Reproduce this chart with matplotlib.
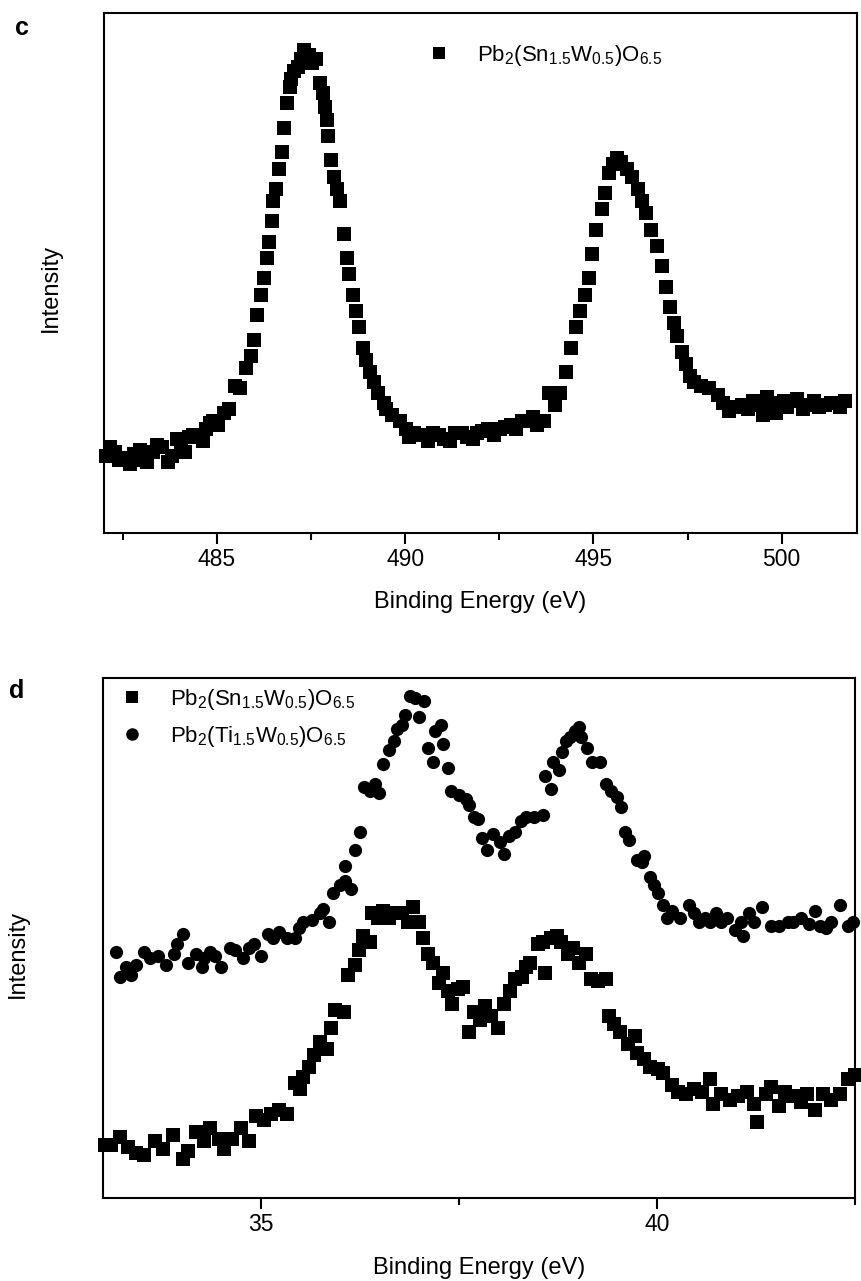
import matplotlib
matplotlib.use('Agg')
import matplotlib.pyplot as plt
from matplotlib.ticker import MultipleLocator, NullLocator

plt.rcParams['font.family'] = ['Liberation Sans', 'DejaVu Sans']
plt.rcParams['mathtext.fontset'] = 'custom'
plt.rcParams['mathtext.rm'] = 'Liberation Sans'
plt.rcParams['mathtext.it'] = 'Liberation Sans:italic'
plt.rcParams['mathtext.bf'] = 'Liberation Sans:bold'

# ---------------- panel c : Pb 4f-like region (482-502 eV) ----------------
c_energy = [
    482.05, 482.17, 482.30, 482.39, 482.55, 482.68, 482.80, 482.95, 483.05, 483.15,
    483.30, 483.42, 483.55, 483.71, 483.80, 483.93, 484.05, 484.15, 484.25, 484.37,
    484.50, 484.62, 484.70, 484.81, 484.90, 485.03, 485.18, 485.32, 485.47, 485.62,
    485.76, 485.91, 485.98, 486.06, 486.17, 486.25, 486.32, 486.38, 486.45, 486.50,
    486.57, 486.64, 486.72, 486.79, 486.86, 486.94, 486.98, 487.05, 487.16, 487.23,
    487.32, 487.45, 487.52, 487.64, 487.74, 487.82, 487.86, 487.92, 487.96, 488.04,
    488.11, 488.18, 488.26, 488.37, 488.45, 488.52, 488.62, 488.70, 488.77, 488.87,
    488.96, 489.06, 489.16, 489.28, 489.43, 489.50, 489.65, 489.87, 490.01, 490.10,
    490.23, 490.45, 490.60, 490.75, 490.90, 491.04, 491.20, 491.33, 491.50, 491.63,
    491.80, 491.92, 492.05, 492.21, 492.35, 492.51, 492.65, 492.80, 492.95, 493.09,
    493.25, 493.39, 493.50, 493.68, 493.83, 493.97, 494.12, 494.27, 494.41, 494.53,
    494.63, 494.78, 494.88, 494.97, 495.07, 495.22, 495.32, 495.41, 495.51, 495.62,
    495.73, 495.88, 496.03, 496.17, 496.29, 496.39, 496.54, 496.69, 496.83, 496.94,
    497.02, 497.13, 497.23, 497.35, 497.46, 497.57, 497.67, 497.86, 498.08, 498.30,
    498.45, 498.59, 498.81, 498.95, 499.11, 499.25, 499.40, 499.50, 499.62, 499.75,
    499.84, 500.06, 500.15, 500.28, 500.40, 500.57, 500.70, 500.87, 501.00, 501.16,
    501.30, 501.45, 501.55, 501.67,
]
c_intensity = [
    19.0, 21.0, 20.0, 18.0, 18.5, 17.0, 19.5, 20.5, 18.0, 17.5,
    20.0, 21.5, 21.0, 17.5, 19.0, 23.0, 22.0, 20.0, 23.5, 24.0,
    24.0, 22.5, 25.5, 27.0, 27.5, 26.5, 29.5, 30.5, 36.0, 35.5,
    40.5, 43.5, 47.5, 53.5, 58.5, 62.5, 67.5, 71.5, 76.5, 81.5,
    84.5, 89.5, 93.5, 99.5, 105.5, 109.5, 111.5, 113.5, 114.5, 116.5,
    118.5, 117.5, 115.5, 116.5, 110.5, 108.0, 104.5, 101.5, 97.5, 91.5,
    87.5, 84.5, 81.5, 73.5, 67.5, 63.5, 58.5, 54.5, 50.5, 45.5,
    42.5, 39.5, 37.0, 34.5, 32.0, 30.5, 29.0, 27.5, 25.5, 23.5,
    24.5, 24.0, 22.5, 24.5, 24.0, 23.0, 22.5, 24.5, 24.5, 23.5,
    23.0, 24.5, 25.0, 25.5, 24.0, 25.5, 26.0, 26.5, 25.5, 27.5,
    27.5, 28.5, 26.5, 27.5, 34.5, 31.5, 34.5, 39.5, 45.5, 50.5,
    54.5, 58.5, 62.5, 68.5, 74.5, 79.5, 83.5, 88.5, 90.5, 92.0,
    91.0, 89.5, 87.5, 84.5, 81.5, 78.5, 74.5, 70.5, 65.5, 60.5,
    55.5, 51.5, 48.5, 44.5, 41.5, 38.5, 37.0, 36.0, 35.5, 34.0,
    32.0, 30.0, 31.0, 31.5, 30.5, 32.5, 31.5, 29.0, 33.5, 32.0,
    29.5, 32.5, 31.0, 32.5, 33.0, 30.5, 31.5, 32.5, 31.0, 31.5,
    32.0, 32.0, 31.0, 32.5,
]

# ---------------- panel d : W 4f-like region (33-42.5 eV) ----------------
d_sn_energy = [
    33.02, 33.10, 33.22, 33.31, 33.42, 33.52, 33.66, 33.76, 33.89, 34.01,
    34.08, 34.18, 34.28, 34.35, 34.46, 34.53, 34.63, 34.74, 34.84, 34.93,
    35.03, 35.12, 35.22, 35.33, 35.43, 35.49, 35.53, 35.60, 35.67, 35.74,
    35.83, 35.88, 35.93, 36.04, 36.09, 36.18, 36.23, 36.28, 36.37, 36.40,
    36.47, 36.54, 36.61, 36.68, 36.78, 36.85, 36.92, 36.99, 37.04, 37.10,
    37.17, 37.24, 37.29, 37.36, 37.41, 37.48, 37.55, 37.62, 37.69, 37.76,
    37.83, 37.90, 37.99, 38.06, 38.14, 38.21, 38.29, 38.35, 38.40, 38.49,
    38.56, 38.59, 38.66, 38.73, 38.78, 38.87, 38.94, 39.01, 39.10, 39.17,
    39.25, 39.35, 39.39, 39.46, 39.53, 39.63, 39.72, 39.74, 39.84, 39.91,
    40.01, 40.08, 40.19, 40.26, 40.36, 40.47, 40.57, 40.67, 40.71, 40.81,
    40.92, 41.02, 41.13, 41.23, 41.26, 41.37, 41.44, 41.54, 41.61, 41.72,
    41.82, 41.89, 41.99, 42.10, 42.20, 42.31, 42.41, 42.50,
]
d_sn_intensity = [
    13.0, 13.0, 15.0, 12.5, 11.0, 10.5, 14.0, 12.0, 15.5, 9.5,
    11.5, 16.0, 14.0, 17.0, 14.5, 12.0, 14.5, 17.0, 14.0, 20.0,
    19.0, 20.5, 21.5, 20.5, 28.0, 26.5, 29.5, 32.0, 35.0, 38.0,
    36.5, 41.5, 46.0, 45.5, 54.5, 57.0, 60.5, 64.0, 62.5, 69.5,
    68.5, 70.0, 68.5, 69.5, 69.5, 67.5, 71.0, 67.5, 63.5, 59.5,
    57.5, 52.5, 55.0, 50.5, 47.5, 51.0, 51.5, 40.5, 45.5, 43.5,
    47.0, 44.5, 41.5, 47.5, 50.5, 53.5, 54.0, 56.5, 57.5, 62.0,
    62.5, 55.0, 63.5, 64.0, 62.5, 59.5, 61.0, 57.5, 59.5, 53.5,
    53.0, 53.5, 44.5, 42.5, 40.5, 37.5, 39.5, 35.5, 34.0, 32.0,
    31.5, 30.5, 27.5, 26.0, 25.5, 26.5, 26.0, 29.0, 23.0, 25.5,
    24.0, 25.0, 26.0, 23.0, 18.5, 25.5, 27.0, 22.5, 26.0, 25.0,
    23.5, 25.5, 21.5, 25.5, 24.0, 25.5, 29.0, 30.0,
]
d_ti_energy = [
    33.17, 33.22, 33.29, 33.35, 33.42, 33.52, 33.59, 33.69, 33.80, 33.90,
    33.94, 34.01, 34.08, 34.18, 34.25, 34.28, 34.35, 34.42, 34.49, 34.60,
    34.67, 34.77, 34.84, 34.91, 35.00, 35.08, 35.15, 35.22, 35.33, 35.43,
    35.47, 35.53, 35.64, 35.74, 35.78, 35.85, 35.90, 35.99, 36.06, 36.13,
    36.06, 36.18, 36.25, 36.30, 36.37, 36.44, 36.49, 36.54, 36.61, 36.67,
    36.72, 36.78, 36.82, 36.88, 36.94, 36.99, 37.06, 37.10, 37.17, 37.20,
    37.27, 37.29, 37.36, 37.39, 37.50, 37.58, 37.62, 37.69, 37.74, 37.79,
    37.85, 37.93, 38.01, 38.06, 38.13, 38.21, 38.28, 38.35, 38.45, 38.56,
    38.59, 38.66, 38.69, 38.76, 38.80, 38.85, 38.90, 38.96, 39.01, 39.04,
    39.11, 39.18, 39.28, 39.35, 39.42, 39.49, 39.54, 39.60, 39.65, 39.74,
    39.81, 39.84, 39.91, 39.96, 40.01, 40.08, 40.12, 40.19, 40.29, 40.40,
    40.47, 40.53, 40.60, 40.67, 40.74, 40.81, 40.88, 40.99, 41.06, 41.09,
    41.16, 41.23, 41.33, 41.44, 41.54, 41.65, 41.72, 41.82, 41.92, 41.99,
    42.06, 42.13, 42.20, 42.31, 42.41, 42.48,
]
d_ti_intensity = [
    60.0, 54.0, 56.5, 54.5, 57.0, 60.0, 58.5, 59.0, 57.0, 59.5,
    62.0, 64.5, 57.5, 59.5, 56.5, 58.5, 60.0, 59.0, 56.5, 61.0,
    60.5, 58.5, 61.0, 62.0, 59.0, 64.5, 63.5, 65.0, 63.5, 63.5,
    66.0, 67.5, 68.0, 69.5, 70.5, 67.5, 74.5, 76.5, 77.5, 75.5,
    81.0, 85.0, 89.5, 100.5, 99.5, 101.0, 99.0, 106.0, 109.5, 111.5,
    114.5, 115.5, 118.0, 122.5, 122.0, 117.5, 121.5, 110.0, 106.5, 114.0,
    115.5, 111.0, 105.0, 99.5, 98.5, 97.5, 96.0, 93.0, 92.5, 88.0,
    85.0, 89.0, 87.0, 84.0, 88.5, 89.5, 92.0, 93.0, 93.0, 93.5,
    103.0, 100.0, 106.5, 104.5, 109.0, 111.5, 112.5, 114.0, 115.0, 112.5,
    110.0, 106.5, 106.5, 101.0, 99.5, 98.0, 95.5, 89.5, 87.5, 82.5,
    82.0, 83.5, 78.5, 76.5, 74.5, 71.5, 68.5, 70.0, 68.5, 71.5,
    69.5, 67.5, 68.5, 67.5, 69.5, 67.5, 68.5, 65.5, 67.5, 64.0,
    69.5, 67.5, 71.0, 66.5, 66.5, 67.5, 67.5, 68.5, 67.0, 70.0,
    66.5, 66.0, 67.5, 71.5, 66.5, 67.5,
]

label_sn = r'Pb$_\mathregular{2}$(Sn$_\mathregular{1.5}$W$_\mathregular{0.5}$)O$_\mathregular{6.5}$'
label_ti = r'Pb$_\mathregular{2}$(Ti$_\mathregular{1.5}$W$_\mathregular{0.5}$)O$_\mathregular{6.5}$'
x_label = 'Binding Energy (eV)'
y_label = 'Intensity'

W, H = 861, 1281
fig = plt.figure(figsize=(W / 100, H / 100), dpi=100)
ax1 = fig.add_axes([104 / W, 1 - 533 / H, 753 / W, 520 / H])
ax2 = fig.add_axes([103 / W, 1 - 1198 / H, 752 / W, 520 / H])

MS = 9.5

ax1.plot(c_energy, c_intensity, 's', color='black', ms=MS, mew=0,
         linestyle='none', clip_on=False, label=label_sn)
ax2.plot(d_sn_energy, d_sn_intensity, 's', color='black', ms=MS, mew=0,
         linestyle='none', clip_on=False, label=label_sn)
ax2.plot(d_ti_energy, d_ti_intensity, 'o', color='black', ms=MS, mew=0,
         linestyle='none', clip_on=False, label=label_ti)

ax1.set_xlim(482.0, 502.0)
ax1.set_ylim(0, 127.7)
ax2.set_xlim(33.0, 42.5)
ax2.set_ylim(0, 127.0)

for ax in (ax1, ax2):
    ax.xaxis.set_major_locator(MultipleLocator(5))
    ax.xaxis.set_minor_locator(MultipleLocator(2.5))
    ax.yaxis.set_major_locator(NullLocator())
    ax.yaxis.set_minor_locator(NullLocator())
    ax.tick_params(axis='x', which='major', direction='out', length=8, width=1.5,
                   labelsize=16.5, pad=3, top=False)
    ax.tick_params(axis='x', which='minor', direction='out', length=5, width=1.5, top=False)
    for s in ax.spines.values():
        s.set_linewidth(1.5)
    ax.set_xlabel(x_label, fontsize=17)
    ax.set_ylabel(y_label, fontsize=17)

ax1.xaxis.set_label_coords(0.5, (533 - 602) / 520)
ax2.xaxis.set_label_coords(0.5, (1198 - 1268) / 520)
ax1.yaxis.set_label_coords((51 - 104) / 753, (533 - 288) / 520)
ax2.yaxis.set_label_coords((18 - 103) / 752, (1198 - 954) / 520)
for ax in (ax1, ax2):
    ax.xaxis.label.set_va('center')
    ax.yaxis.label.set_va('center')

ax1.legend(loc='center left', bbox_to_anchor=(0.430, 0.919), frameon=False,
           handlelength=1.0, handletextpad=1.2, borderpad=0, borderaxespad=0,
           fontsize=16, numpoints=1, markerscale=0.95)
ax2.legend(loc='center left', bbox_to_anchor=(0.024, 0.923), frameon=False,
           handlelength=1.0, handletextpad=1.2, borderpad=0, borderaxespad=0,
           fontsize=16, numpoints=1, labelspacing=0.55, markerscale=0.95)

fig.text(22 / W, 1 - 28 / H, 'c', ha='center', va='center', fontsize=18, fontweight='bold')
fig.text(17 / W, 1 - 691 / H, 'd', ha='center', va='center', fontsize=18, fontweight='bold')

fig.savefig('out.png', dpi=100)
